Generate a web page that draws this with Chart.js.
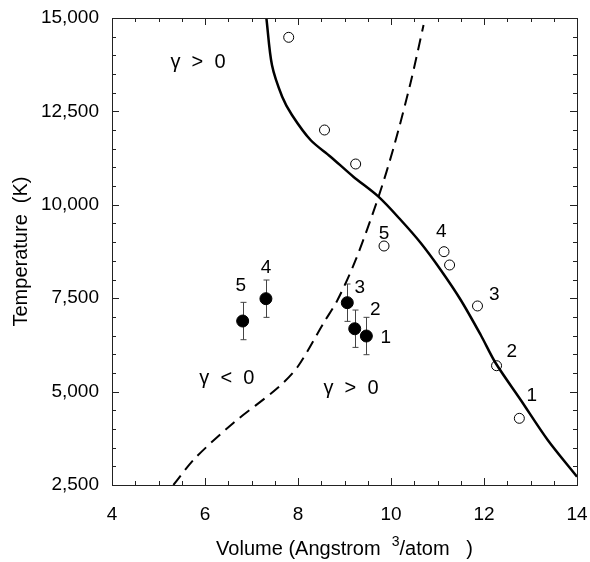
<!DOCTYPE html>
<html>
<head>
<meta charset="utf-8">
<script src="https://cdn.jsdelivr.net/npm/chart.js@4.4.0/dist/chart.umd.min.js"></script>
<style>
html,body{margin:0;padding:0;background:#fff;}
canvas{display:block;}
</style>
</head>
<body>
<canvas id="c" width="590" height="562"></canvas>
<script>
// ---- data ----
const theoryX = [7.32, 7.44, 7.66, 7.87, 8.27, 8.70, 9.19, 9.73, 10.21, 10.64, 11.07, 11.50, 11.93, 12.25, 12.79, 13.37, 14.0];
const theoryY = [15000, 13742, 12894, 12404, 11734, 11288, 10752, 10217, 9593, 8977, 8255, 7452, 6515, 5765, 4775, 3705, 2722];
const boundaryX = [5.32, 5.79, 6.61, 7.56, 7.99, 8.55, 8.85, 9.24, 9.73, 10.06, 10.42, 10.70];
const boundaryY = [2500, 3222, 4160, 5096, 5659, 6836, 7452, 8523, 10208, 11547, 13260, 14813];
const openX = [7.80, 8.57, 9.24, 9.85, 11.14, 11.26, 11.86, 12.27, 12.76];
const openY = [14483, 12002, 11092, 8897, 8745, 8389, 7292, 5693, 4285];
const filledX = [6.81, 7.31, 9.06, 9.22, 9.47];
const filledY = [6889, 7487, 7380, 6683, 6488];
const filledErr = [500, 500, 500, 500, 500];
const xTicks = [4, 6, 8, 10, 12, 14];
const yTicks = [2500, 5000, 7500, 10000, 12500, 15000];
const xMinor = [4.5, 5, 5.5, 6.5, 7, 7.5, 8.5, 9, 9.5, 10.5, 11, 11.5, 12.5, 13, 13.5];
const yMinor = [3000, 3500, 4000, 4500, 5500, 6000, 6500, 7000, 8000, 8500, 9000, 9500, 10500, 11000, 11500, 12000, 13000, 13500, 14000, 14500];
const openLabels = ['5', '4', '3', '2', '1'];
const openLabelX = [9.85, 11.08, 12.22, 12.60, 13.03];
const openLabelY = [9218, 9272, 7586, 6060, 4882];
const filledLabels = ['5', '4', '3', '2', '1'];
const filledLabelX = [6.77, 7.31, 9.33, 9.66, 9.89];
const filledLabelY = [7827, 8308, 7773, 7184, 6435];
const regionLabels = ['γ  >  0', 'γ  <  0', 'γ  >  0'];
const regionLabelX = [5.85, 6.47, 9.14];
const regionLabelY = [13822, 5364, 5096];
const xTitleParts = ['Volume (Angstrom  ', '3', '/atom   )'];

const FONT = '"Liberation Sans", Arial, sans-serif';
const pts = (xs, ys) => xs.map((x, i) => ({x: x, y: ys[i]}));

const decor = {
  id: 'decor',
  beforeDatasetsDraw(chart) {
    const ctx = chart.ctx, xs = chart.scales.x, ys = chart.scales.y;
    ctx.save();
    ctx.strokeStyle = '#444';
    ctx.lineWidth = 1;
    filledX.forEach((x, i) => {
      const px = Math.round(xs.getPixelForValue(x)) + 0.5;
      const top = ys.getPixelForValue(filledY[i] + filledErr[i]);
      const bot = ys.getPixelForValue(filledY[i] - filledErr[i]);
      ctx.beginPath();
      ctx.moveTo(px, top); ctx.lineTo(px, bot);
      ctx.moveTo(px - 3, top); ctx.lineTo(px + 3, top);
      ctx.moveTo(px - 3, bot); ctx.lineTo(px + 3, bot);
      ctx.stroke();
    });
    ctx.restore();
  },
  afterDraw(chart) {
    const ctx = chart.ctx, a = chart.chartArea, xs = chart.scales.x, ys = chart.scales.y;
    ctx.save();
    ctx.strokeStyle = '#222';
    ctx.lineWidth = 1;
    ctx.strokeRect(Math.round(a.left) + 0.5, Math.round(a.top) + 0.5, Math.round(a.right - a.left), Math.round(a.bottom - a.top));
    const tick = (vals, len) => {
      ctx.beginPath();
      vals.forEach(v => {
        const px = Math.round(xs.getPixelForValue(v)) + 0.5;
        ctx.moveTo(px, a.bottom); ctx.lineTo(px, a.bottom - len);
        ctx.moveTo(px, a.top); ctx.lineTo(px, a.top + len);
      });
      ctx.stroke();
    };
    const tickY = (vals, len) => {
      ctx.beginPath();
      vals.forEach(v => {
        const py = Math.round(ys.getPixelForValue(v)) + 0.5;
        ctx.moveTo(a.left, py); ctx.lineTo(a.left + len, py);
        ctx.moveTo(a.right, py); ctx.lineTo(a.right - len, py);
      });
      ctx.stroke();
    };
    tick(xTicks, 7); tick(xMinor, 4);
    tickY(yTicks, 7); tickY(yMinor, 4);
    ctx.fillStyle = '#000';
    ctx.textAlign = 'center';
    ctx.textBaseline = 'middle';
    ctx.font = '19px ' + FONT;
    const draw = (labs, lx, ly) => labs.forEach((t, i) => ctx.fillText(t, xs.getPixelForValue(lx[i]), ys.getPixelForValue(ly[i])));
    draw(openLabels, openLabelX, openLabelY);
    draw(filledLabels, filledLabelX, filledLabelY);
    ctx.font = '20px ' + FONT;
    draw(regionLabels, regionLabelX, regionLabelY);
    const big = '20px ' + FONT, small = '14px ' + FONT;
    ctx.font = big;
    const w0 = ctx.measureText(xTitleParts[0]).width, w2 = ctx.measureText(xTitleParts[2]).width;
    ctx.font = small;
    const w1 = ctx.measureText(xTitleParts[1]).width;
    const total = w0 + w1 + w2;
    let x0 = (a.left + a.right) / 2 - total / 2;
    const yb = 555;
    ctx.textAlign = 'left';
    ctx.textBaseline = 'alphabetic';
    ctx.font = big; ctx.fillText(xTitleParts[0], x0, yb);
    ctx.font = small; ctx.fillText(xTitleParts[1], x0 + w0, yb - 9);
    ctx.font = big; ctx.fillText(xTitleParts[2], x0 + w0 + w1, yb);
    ctx.restore();
  }
};

new Chart(document.getElementById('c'), {
  type: 'scatter',
  data: {
    datasets: [
      {type: 'line', data: pts(theoryX, theoryY), borderColor: '#000', borderWidth: 2.5, pointRadius: 0, tension: 0.3, fill: false},
      {type: 'line', data: pts(boundaryX, boundaryY), borderColor: '#000', borderWidth: 2, borderDash: [12, 7], pointRadius: 0, tension: 0.3, fill: false},
      {data: pts(openX, openY), pointRadius: 5, pointBackgroundColor: '#fff', pointBorderColor: '#000', pointBorderWidth: 1},
      {data: pts(filledX, filledY), pointRadius: 6, pointBackgroundColor: '#000', pointBorderColor: '#000', pointBorderWidth: 1}
    ]
  },
  options: {
    responsive: false,
    devicePixelRatio: 1,
    animation: false,
    layout: {padding: {top: 18, right: 13, left: 0, bottom: 0}},
    plugins: {legend: {display: false}, tooltip: {enabled: false}},
    scales: {
      x: {
        type: 'linear', min: 4, max: 14,
        afterBuildTicks(s) { s.ticks = xTicks.map(v => ({value: v})); },
        afterFit(s) { s.height = 77; s.paddingLeft = 0; s.paddingRight = 0; },
        grid: {display: false, drawTicks: false},
        border: {display: false},
        ticks: {color: '#000', font: {family: FONT, size: 19}, padding: 18, maxRotation: 0},
        title: {display: false}
      },
      y: {
        type: 'linear', min: 2500, max: 15000,
        afterBuildTicks(s) { s.ticks = yTicks.map(v => ({value: v})); },
        afterFit(s) { s.width = 112; s.paddingTop = 0; s.paddingBottom = 0; },
        grid: {display: false, drawTicks: false},
        border: {display: false},
        ticks: {color: '#000', font: {family: FONT, size: 19}, padding: 13},
        title: {display: true, text: 'Temperature  (K)', color: '#000', font: {family: FONT, size: 20}, padding: {top: 9, bottom: 4}}
      }
    }
  },
  plugins: [decor]
});
</script>
</body>
</html>
